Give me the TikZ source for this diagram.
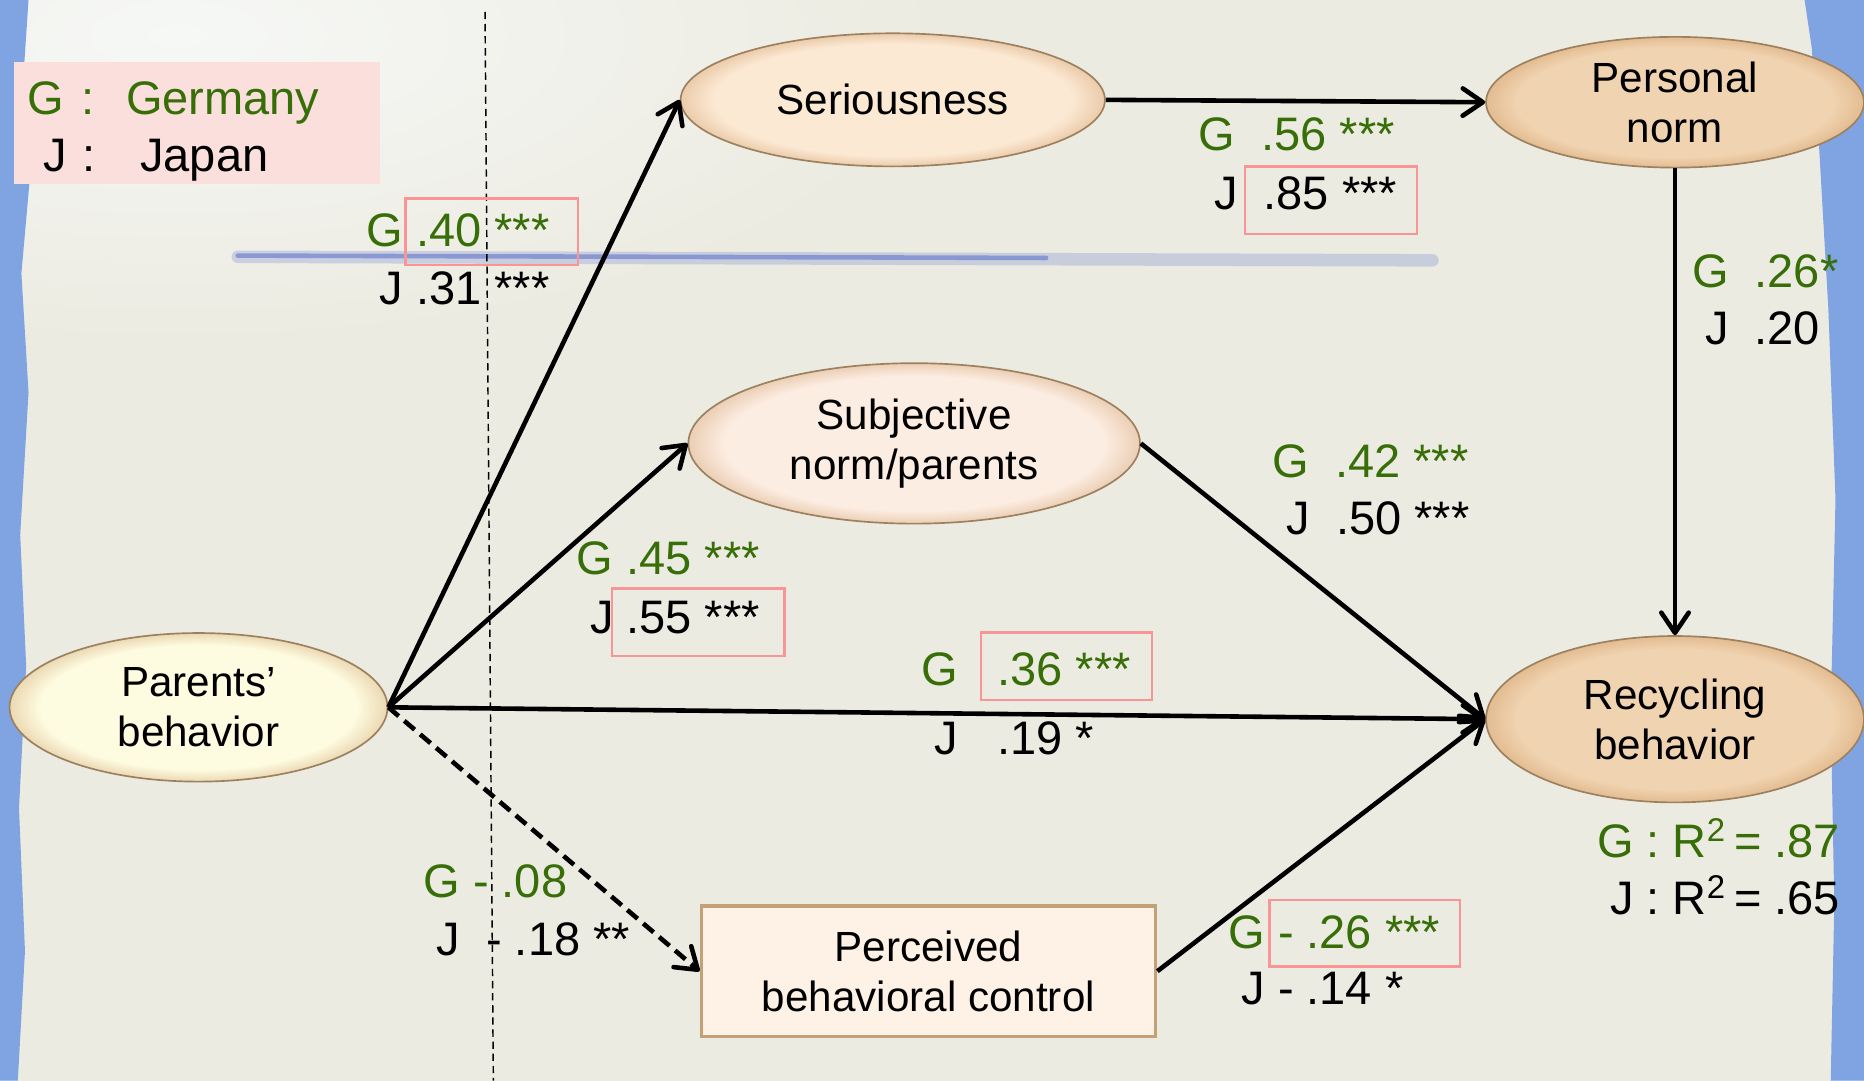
\documentclass[tikz,border=0pt]{standalone}
\usepackage{fontspec}
\setmainfont{Liberation Sans}
\usetikzlibrary{shapes.geometric,arrows.meta}

\definecolor{paper}{RGB}{236,235,225}
\definecolor{topwhite}{RGB}{246,248,246}
\definecolor{edgeblue}{RGB}{128,164,226}
\definecolor{penblue}{RGB}{96,116,205}
\definecolor{legendpink}{RGB}{250,223,221}
\definecolor{boxpink}{RGB}{248,150,150}
\definecolor{ggreen}{RGB}{56,110,8}
\definecolor{yellowfill}{RGB}{253,251,224}
\definecolor{creamfill}{RGB}{252,233,212}
\definecolor{pinkfill}{RGB}{252,237,226}
\definecolor{tanfill}{RGB}{240,211,176}
\definecolor{rimbrown}{RGB}{196,160,118}

% body colour with a darker rim
\colorlet{bodyc}{tanfill}
\colorlet{rimc}{rimbrown}
\pgfdeclareradialshading[bodyc,rimc]{bevel}{\pgfpoint{0bp}{0bp}}{%
    color(0bp)=(bodyc); color(21bp)=(bodyc); color(25bp)=(rimc); color(50bp)=(rimc)}

\begin{document}
\begin{tikzpicture}[x=0.02cm,y=-0.02cm,
    latent/.style={ellipse,draw=rimbrown!80!black,line width=0.8pt,inner sep=0pt,
        align=center,font=\fontsize{20.2}{24.2}\selectfont},
    boxed/.style={latent,rectangle,fill=creamfill!60!white,draw=rimbrown,line width=1.8pt},
    body/.style={/utils/exec={\colorlet{bodyc}{#1}\colorlet{rimc}{#1!72!brown}},
        shading=bevel},
    effect/.style={line width=2.2pt,-{Straight Barb[length=3.4mm,width=4.6mm,round]}},
    gval/.style={anchor=base west,inner sep=0pt,text=ggreen,
        font=\fontsize{22.5}{27}\selectfont},
    jval/.style={gval,text=black},
    hilite/.style={draw=boxpink,line width=1.1pt}]
    \useasboundingbox (0,0) rectangle (1568,909);
    % paper
    \fill[paper] (0,0) rectangle (1568,909);
    \shade[inner color=topwhite,outer color=paper] (150,30) ellipse (650 and 260);
    \fill[edgeblue] (0,0) -- (24,0) -- (20,60) -- (26,140) -- (18,230) -- (24,330)
        -- (17,450) -- (22,560) -- (16,680) -- (21,800) -- (15,909) -- (0,909) -- cycle;
    \fill[edgeblue] (1568,0) -- (1518,0) -- (1524,40) -- (1530,120) -- (1538,260)
        -- (1544,420) -- (1540,600) -- (1543,760) -- (1540,909) -- (1568,909) -- cycle;
    % pen stroke
    \draw[penblue,opacity=0.25,line width=6pt,line cap=round] (200,216) -- (1205,219);
    \draw[penblue,opacity=0.6,line width=2.2pt,line cap=round] (200,215) -- (880,217);

    % legend
    \fill[legendpink] (12,52) rectangle (320,155);
    \node[gval] (legG) at (23,96) {G\hspace{0.37em}:\hspace{0.67em}Germany};
    \node[jval] (legJ) at (36,144) {J\hspace{0.34em}:\hspace{0.95em}Japan};

    \draw[line width=0.7pt,dash pattern=on 3.5pt off 2.3pt] (408,10) -- (415,909);

    % constructs
    \node[latent,body=yellowfill,minimum width=6.36cm,minimum height=2.5cm]
        (par) at (167,595) {Parents'\\behavior};
    \node[latent,body=creamfill,minimum width=7.14cm,minimum height=2.24cm]
        (ser) at (751,84) {Seriousness};
    \node[latent,body=pinkfill,minimum width=7.6cm,minimum height=2.7cm]
        (subj) at (769,373) {Subjective\\norm/parents};
    \node[boxed,minimum width=7.64cm,minimum height=2.2cm]
        (pbc) at (781,817) {Perceived\\behavioral control};
    \node[latent,body=tanfill,minimum width=6.36cm,minimum height=2.2cm]
        (pn) at (1409,86) {Personal\\norm};
    \node[latent,body=tanfill,minimum width=6.36cm,minimum height=2.8cm]
        (rec) at (1409,605) {Recycling\\behavior};

    % paths
    \draw[effect] (par.east) -- (ser.west);
    \draw[effect] (par.east) -- (subj.west);
    \draw[effect] (par.east) -- (rec.west);
    \draw[effect,dash pattern=on 6.5pt off 3.5pt] (par.east) -- (pbc.west);
    \draw[effect] (ser.east) -- (pn.west);
    \draw[effect] (subj.east) -- (rec.west);
    \draw[effect] (pbc.east) -- (rec.west);
    \draw[effect] (pn.south) -- (rec.north);

    % coefficients
    \node[gval] (g40) at (308,207) {G .40 ***};
    \node[jval] (j31) at (319,256) {J .31 ***};
    \node[gval] (g56) at (1008,127) {G~~.56 ***};
    \node[jval] (j85) at (1021,176) {J~~.85 ***};
    \node[gval] (g26) at (1423,242) {G~~.26*};
    \node[jval] (j20) at (1434,290) {J~~.20};
    \node[gval] (g42) at (1070,402) {G~~.42 ***};
    \node[jval] (j50) at (1082,450) {J~~.50 ***};
    \node[gval] (g45) at (485,483) {G .45 ***};
    \node[jval] (j55) at (496,533) {J .55 ***};
    \node[gval] (g36) at (775,577) {G~~~.36 ***};
    \node[jval] (j19) at (786,635) {J~~~.19 *};
    \node[gval] (g08) at (356,755) {G - .08};
    \node[jval] (j18) at (367,804) {J~~- .18 **};
    \node[gval] (gm26) at (1033,798) {G - .26 ***};
    \node[jval] (jm14) at (1044,845) {J - .14 *};
    \node[gval,anchor=base east] (gR) at (1548,721) {G : R\textsuperscript{2}\,= .87};
    \node[jval,anchor=base east] (jR) at (1548,769) {J : R\textsuperscript{2}\,= .65};

    % highlighted values
    \draw[hilite] (341,167) rectangle (486,223);
    \draw[hilite] (1047,140) rectangle (1192,197);
    \draw[hilite] (515,495) rectangle (660,552);
    \draw[hilite] (825,532) rectangle (969,589);
    \draw[hilite] (1068,757) rectangle (1228,813);
\end{tikzpicture}
\end{document}
